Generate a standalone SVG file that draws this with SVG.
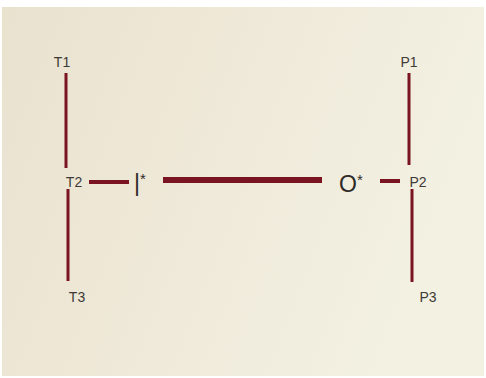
<svg xmlns="http://www.w3.org/2000/svg" width="486" height="378" viewBox="0 0 486 378">
<style>
.bg{fill:url(#g)}
.ln{stroke:#7a1322;stroke-linecap:butt;fill:none}
.lbl{font-family:"Liberation Sans",Arial,sans-serif;font-size:14px;fill:#3e3a36;text-anchor:middle}
.big{font-family:"Liberation Sans",Arial,sans-serif;font-size:23px;fill:#2e2a28}
</style>
<defs>
<linearGradient id="g" x1="0" y1="0" x2="1" y2="0.3">
<stop offset="0" stop-color="#e9e2cf"/>
<stop offset="0.5" stop-color="#efe9d9"/>
<stop offset="1" stop-color="#f3f1e2"/>
</linearGradient>
</defs>
<rect width="486" height="378" fill="#ffffff"/>
<rect class="bg" x="2" y="7" width="482" height="369"/>
<g id="connectors">
<line class="ln" x1="66" y1="73" x2="66" y2="168" stroke-width="3"/>
<line class="ln" x1="68" y1="189" x2="68" y2="281" stroke-width="3"/>
<line class="ln" x1="89" y1="182" x2="129" y2="182" stroke-width="4"/>
<line class="ln" x1="163" y1="180" x2="322" y2="180" stroke-width="6" stroke-linecap="round"/>
<line class="ln" x1="380" y1="181" x2="400" y2="181" stroke-width="4"/>
<line class="ln" x1="409" y1="73" x2="409" y2="165" stroke-width="3"/>
<line class="ln" x1="412" y1="189" x2="412" y2="282" stroke-width="3"/>
</g>
<g id="T1"><text class="lbl" x="62" y="67">T1</text></g>
<g id="T2"><text class="lbl" x="74" y="187">T2</text></g>
<g id="T3"><text class="lbl" x="77" y="302">T3</text></g>
<g id="I"><text class="big" x="134" y="191">|<tspan font-size="15" dy="-7">*</tspan></text></g>
<g id="O"><text class="big" x="339" y="192">O<tspan font-size="15" dy="-7">*</tspan></text></g>
<g id="P1"><text class="lbl" x="409" y="67">P1</text></g>
<g id="P2"><text class="lbl" x="418" y="187">P2</text></g>
<g id="P3"><text class="lbl" x="428" y="302">P3</text></g>
</svg>
